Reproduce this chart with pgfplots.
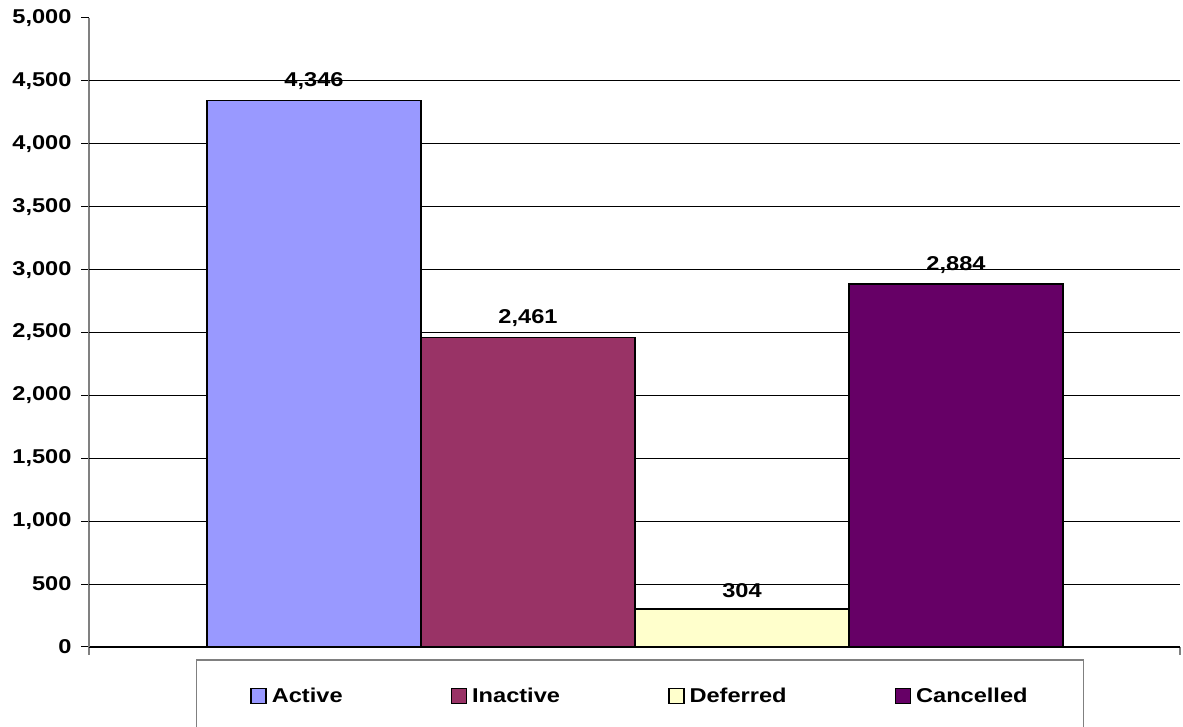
\documentclass[border=0pt]{standalone}
\usepackage{fontspec}
\setmainfont{Liberation Sans}[FakeStretch=1.18]
\usepackage{pgfplots}
\pgfplotsset{compat=1.18}

\definecolor{cActive}{HTML}{9999FF}
\definecolor{cInactive}{HTML}{993366}
\definecolor{cDeferred}{HTML}{FFFFCC}
\definecolor{cCancelled}{HTML}{660066}
\definecolor{axisgray}{HTML}{808080}

\begin{document}
\begin{tikzpicture}[x=1pt,y=1pt]
\path[use as bounding box] (0,0) rectangle (1183,727);
\begin{axis}[
    at={(89pt,80pt)}, anchor=south west,
    scale only axis,
    width=1091pt, height=629pt,
    xmin=0, xmax=1091,
    ymin=0, ymax=5000,
    ybar=0pt, bar width=214pt,
    axis x line*=bottom, axis y line*=left,
    x axis line style={black, line width=1.2pt, -},
    y axis line style={axisgray, line width=1.5pt, -},
    xtick={0,1091}, xticklabels={},
    x tick style={axisgray, line width=1.2pt},
    ytick={0,500,...,5000},
    y tick style={black, line width=1pt},
    tick align=outside,
    major tick length=8pt,
    extra y ticks={500,1000,...,4500},
    extra y tick labels={},
    extra y tick style={grid=major, major tick length=0pt},
    grid style={black, line width=1pt},
    ticklabel style={font=\fontsize{20}{24}\selectfont\bfseries},
    yticklabel style={xshift=-6pt},
    /pgf/number format/.cd, 1000 sep={,}, assume math mode=true, /pgfplots/.cd,
    nodes near coords,
    nodes near coords style={font=\fontsize{20}{24}\selectfont\bfseries, yshift=7pt,
        /pgf/number format/1000 sep={,}, /pgf/number format/assume math mode=true},
    legend columns=4,
    legend style={at={(rel axis cs:0.505,-0.0779)}, anchor=center,
        draw=axisgray, line width=1.5pt,
        inner xsep=54pt, inner ysep=26pt,
        font=\fontsize{20}{24}\selectfont\bfseries,
        /tikz/every even column/.append style={column sep=106pt}},
    legend image code/.code={\draw[#1, line width=1.5pt] (0pt,-7.5pt) rectangle (15pt,7.5pt);
        \path (18pt,0pt);},
]
\addplot[fill=cActive, draw=black, line width=1.5pt] coordinates {(546,4346)};
\addplot[fill=cInactive, draw=black, line width=1.5pt] coordinates {(546,2461)};
\addplot[fill=cDeferred, draw=black, line width=1.5pt] coordinates {(546,304)};
\addplot[fill=cCancelled, draw=black, line width=1.5pt] coordinates {(546,2884)};
\legend{Active, Inactive, Deferred, Cancelled}
\end{axis}
\end{tikzpicture}
\end{document}
